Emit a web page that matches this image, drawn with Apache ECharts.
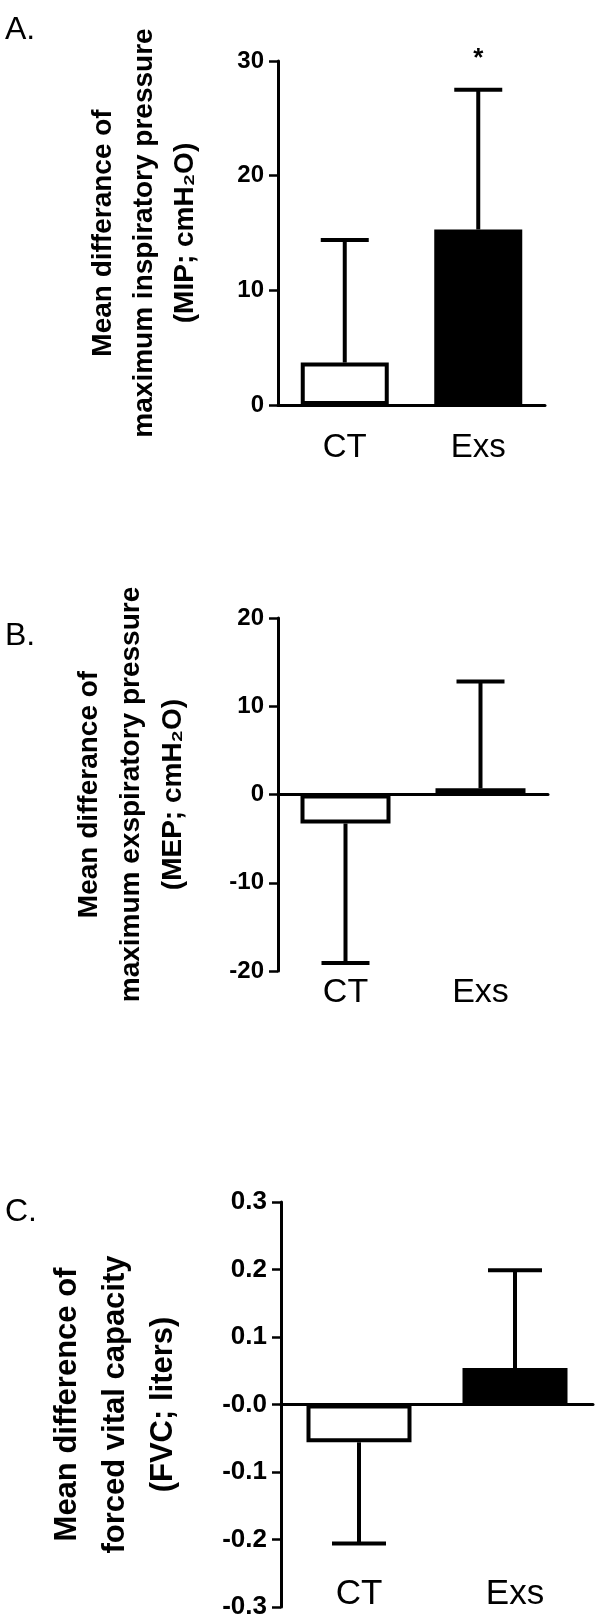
<!DOCTYPE html>
<html>
<head>
<meta charset="utf-8">
<title>MIP / MEP / FVC mean difference</title>
<script src="https://cdn.jsdelivr.net/npm/echarts@6/dist/echarts.min.js"></script>
<style>
  html, body { margin: 0; padding: 0; background: #fff; }
  #chart { width: 606px; height: 1623px; }
</style>
</head>
<body>
<div id="chart"></div>
<script>
// groups on the x axis
var categories = ["CT", "Exs"];

// A. maximum inspiratory pressure (cmH2O)
var mipMean = [3.7, 15.3];
var mipErrEnd = [14.4, 27.5];
var mipSig = ["", "*"];
var mipTicks = [0, 10, 20, 30];

// B. maximum exspiratory pressure (cmH2O)
var mepMean = [-3.3, 0.7];
var mepErrEnd = [-19.1, 12.8];
var mepTicks = [-20, -10, 0, 10, 20];

// C. forced vital capacity (liters)
var fvcMean = [-0.056, 0.054];
var fvcErrEnd = [-0.206, 0.199];
var fvcTicks = [-0.3, -0.2, -0.1, 0, 0.1, 0.2, 0.3];
var fvcTickLabels = ["-0.3", "-0.2", "-0.1", "-0.0", "0.1", "0.2", "0.3"];

var titleA = "Mean differance of\nmaximum inspiratory pressure\n(MIP; cmH\u2082O)";
var titleB = "Mean differance of\nmaximum exspiratory pressure\n(MEP; cmH\u2082O)";
var titleC = "Mean difference of\nforced vital capacity\n(FVC; liters)";

var FONT = "'Liberation Sans', Arial, Helvetica, sans-serif";

function yAxisOf(grid, ticks, name, opts) {
  return {
    type: "value",
    gridIndex: grid,
    min: ticks[0],
    max: ticks[ticks.length - 1],
    interval: ticks[1] - ticks[0],
    name: name,
    nameLocation: "middle",
    nameRotate: 90,
    nameGap: opts.nameGap,
    nameTextStyle: {
      fontFamily: FONT,
      fontSize: opts.nameSize,
      fontWeight: "bold",
      lineHeight: opts.nameLine,
      color: "#000",
    },
    axisLine: { show: true, onZero: false, lineStyle: { color: "#000", width: 3 } },
    axisTick: { show: true, length: 9, lineStyle: { color: "#000", width: 2.5 } },
    splitLine: { show: false },
    axisLabel: {
      fontFamily: FONT,
      fontSize: opts.labelSize,
      fontWeight: "bold",
      color: "#000",
      margin: 14,
      formatter: opts.formatter,
    },
  };
}

// baseline axis: the line sits on y = 0, no labels
function baseAxisOf(grid) {
  return {
    type: "category",
    gridIndex: grid,
    position: "bottom",
    data: categories,
    axisLine: { show: true, onZero: true, lineStyle: { color: "#000", width: 3 } },
    axisTick: { show: false },
    axisLabel: { show: false },
    splitLine: { show: false },
  };
}

// label axis: stays at the grid bottom, only the group names
function labelAxisOf(grid, offset, size) {
  return {
    type: "category",
    gridIndex: grid,
    position: "bottom",
    offset: offset,
    data: categories,
    axisLine: { show: false, onZero: false },
    axisTick: { show: false },
    splitLine: { show: false },
    axisLabel: { fontFamily: FONT, fontSize: size, color: "#000", margin: 0 },
  };
}

function barSeries(grid, mean, barW) {
  return {
    type: "bar",
    xAxisIndex: grid * 2,
    yAxisIndex: grid,
    barWidth: barW,
    silent: true,
    z: 2,
    data: mean.map(function (v, i) {
      return {
        value: v,
        itemStyle:
          i === 0
            ? { color: "#fff", borderColor: "#000", borderWidth: 4 }
            : { color: "#000", borderColor: "#000", borderWidth: 3 },
      };
    }),
  };
}

// error bar: stem from the mean to the end value, one cap at the end
function errSeries(grid, mean, errEnd, capW, sig) {
  return {
    type: "custom",
    xAxisIndex: grid * 2,
    yAxisIndex: grid,
    silent: true,
    z: 5,
    data: mean.map(function (m, i) {
      return [i, m, errEnd[i]];
    }),
    renderItem: function (params, api) {
      var p0 = api.coord([api.value(0), api.value(1)]);
      var p1 = api.coord([api.value(0), api.value(2)]);
      var st = { stroke: "#000", lineWidth: 4 };
      var kids = [
        { type: "line", shape: { x1: p0[0], y1: p0[1], x2: p1[0], y2: p1[1] }, style: st },
        { type: "line", shape: { x1: p1[0] - capW / 2, y1: p1[1], x2: p1[0] + capW / 2, y2: p1[1] }, style: st },
      ];
      if (sig && sig[params.dataIndex]) {
        kids.push({
          type: "text",
          x: p1[0],
          y: p1[1] - 31,
          style: {
            text: sig[params.dataIndex],
            fontFamily: FONT,
            fontSize: 26,
            fontWeight: "bold",
            fill: "#000",
            align: "center",
            verticalAlign: "middle",
          },
        });
      }
      return { type: "group", children: kids };
    },
  };
}

function panelLabel(txt, top) {
  return {
    type: "text",
    left: 5,
    top: top,
    style: { text: txt, fontFamily: FONT, fontSize: 32, fill: "#000" },
  };
}

var chart = echarts.init(document.getElementById("chart"), null, { renderer: "canvas" });

chart.setOption({
  animation: false,
  backgroundColor: "#fff",
  grid: [
    { left: 278, top: 61, width: 267, height: 344, outerBoundsMode: "none" },
    { left: 278, top: 618, width: 270, height: 353, outerBoundsMode: "none" },
    { left: 281, top: 1202, width: 312, height: 405, outerBoundsMode: "none" },
  ],
  xAxis: [
    baseAxisOf(0), labelAxisOf(0, 26, 33),
    baseAxisOf(1), labelAxisOf(1, 5, 34),
    baseAxisOf(2), labelAxisOf(2, -30, 35),
  ],
  yAxis: [
    yAxisOf(0, mipTicks, titleA, { nameGap: 72, nameSize: 28, nameLine: 41, labelSize: 24 }),
    yAxisOf(1, mepTicks, titleB, { nameGap: 84, nameSize: 28, nameLine: 42, labelSize: 24 }),
    yAxisOf(2, fvcTicks, titleC, {
      nameGap: 94,
      nameSize: 31,
      nameLine: 48,
      labelSize: 26,
      formatter: function (v, idx) {
        return fvcTickLabels[idx];
      },
    }),
  ],
  graphic: [panelLabel("A.", 14), panelLabel("B.", 620), panelLabel("C.", 1196)],
  series: [
    barSeries(0, mipMean, 88),
    errSeries(0, mipMean, mipErrEnd, 48, mipSig),
    barSeries(1, mepMean, 90),
    errSeries(1, mepMean, mepErrEnd, 48),
    barSeries(2, fvcMean, 105),
    errSeries(2, fvcMean, fvcErrEnd, 54),
  ],
});
</script>
</body>
</html>
